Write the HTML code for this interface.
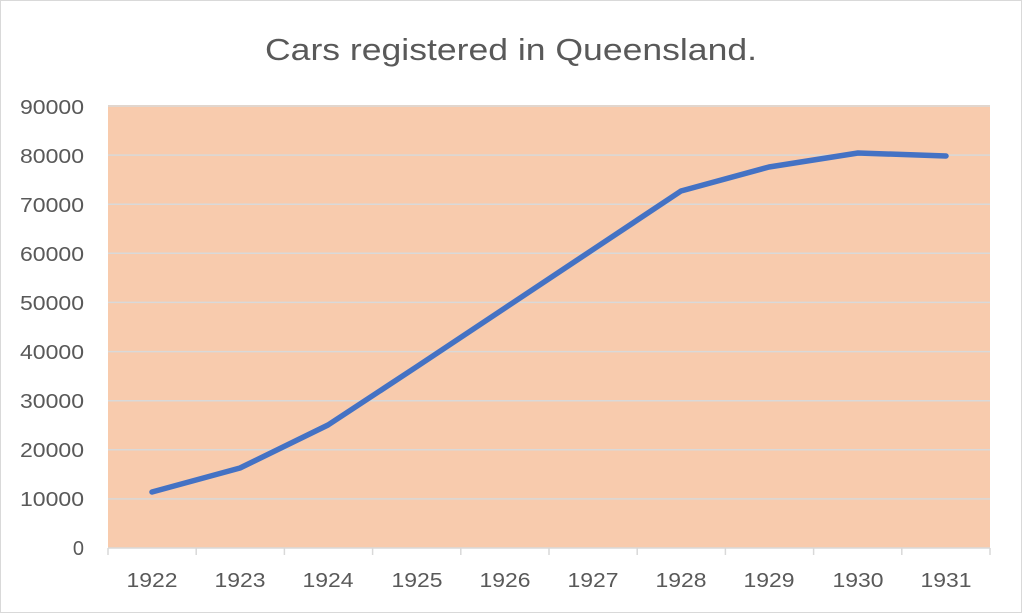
<!DOCTYPE html>
<html><head><style>
body{margin:0;background:#fff;}
svg{display:block;font-family:"Liberation Sans",Calibri,sans-serif;}
</style></head><body>
<svg width="1023" height="614" viewBox="0 0 1023 614">
<rect x="0.5" y="0.5" width="1021" height="612" fill="#fff" stroke="#d9d9d9"/>
<text x="265" y="60" font-size="31" fill="#595959" textLength="492" lengthAdjust="spacingAndGlyphs">Cars registered in Queensland.</text>
<rect x="108" y="105" width="882" height="443" fill="#f8cbad"/>
<g stroke="#d9d9d9" stroke-width="1.5">
<line x1="108" x2="990" y1="106" y2="106"/>
<line x1="108" x2="990" y1="155.1" y2="155.1"/>
<line x1="108" x2="990" y1="204.2" y2="204.2"/>
<line x1="108" x2="990" y1="253.3" y2="253.3"/>
<line x1="108" x2="990" y1="302.4" y2="302.4"/>
<line x1="108" x2="990" y1="351.6" y2="351.6"/>
<line x1="108" x2="990" y1="400.7" y2="400.7"/>
<line x1="108" x2="990" y1="449.8" y2="449.8"/>
<line x1="108" x2="990" y1="498.9" y2="498.9"/>
<line x1="108" x2="990" y1="548" y2="548"/>
<line x1="108" x2="108" y1="548" y2="555"/>
<line x1="196.2" x2="196.2" y1="548" y2="555"/>
<line x1="284.4" x2="284.4" y1="548" y2="555"/>
<line x1="372.6" x2="372.6" y1="548" y2="555"/>
<line x1="460.8" x2="460.8" y1="548" y2="555"/>
<line x1="549" x2="549" y1="548" y2="555"/>
<line x1="637.2" x2="637.2" y1="548" y2="555"/>
<line x1="725.4" x2="725.4" y1="548" y2="555"/>
<line x1="813.6" x2="813.6" y1="548" y2="555"/>
<line x1="901.8" x2="901.8" y1="548" y2="555"/>
<line x1="990" x2="990" y1="548" y2="555"/>
</g>
<g font-size="20" fill="#595959" text-anchor="end">
<text x="84" y="114" textLength="64" lengthAdjust="spacingAndGlyphs">90000</text>
<text x="84" y="163" textLength="64" lengthAdjust="spacingAndGlyphs">80000</text>
<text x="84" y="212" textLength="64" lengthAdjust="spacingAndGlyphs">70000</text>
<text x="84" y="261" textLength="64" lengthAdjust="spacingAndGlyphs">60000</text>
<text x="84" y="310" textLength="64" lengthAdjust="spacingAndGlyphs">50000</text>
<text x="84" y="359" textLength="64" lengthAdjust="spacingAndGlyphs">40000</text>
<text x="84" y="408" textLength="64" lengthAdjust="spacingAndGlyphs">30000</text>
<text x="84" y="457" textLength="64" lengthAdjust="spacingAndGlyphs">20000</text>
<text x="84" y="506" textLength="64" lengthAdjust="spacingAndGlyphs">10000</text>
<text x="84" y="555">0</text>
</g>
<g font-size="20" fill="#595959" text-anchor="middle">
<text x="152" y="587" textLength="51" lengthAdjust="spacingAndGlyphs">1922</text>
<text x="240" y="587" textLength="51" lengthAdjust="spacingAndGlyphs">1923</text>
<text x="328" y="587" textLength="51" lengthAdjust="spacingAndGlyphs">1924</text>
<text x="417" y="587" textLength="51" lengthAdjust="spacingAndGlyphs">1925</text>
<text x="505" y="587" textLength="51" lengthAdjust="spacingAndGlyphs">1926</text>
<text x="593" y="587" textLength="51" lengthAdjust="spacingAndGlyphs">1927</text>
<text x="681" y="587" textLength="51" lengthAdjust="spacingAndGlyphs">1928</text>
<text x="769" y="587" textLength="51" lengthAdjust="spacingAndGlyphs">1929</text>
<text x="858" y="587" textLength="51" lengthAdjust="spacingAndGlyphs">1930</text>
<text x="946" y="587" textLength="51" lengthAdjust="spacingAndGlyphs">1931</text>
</g>
<polyline fill="none" stroke="#4472c4" stroke-width="5.5" stroke-linejoin="round" stroke-linecap="round"
points="152,492 240,468 328,425 417,366.5 505,308 593,249.5 681,191 769,167 858,153 946,156"/>
</svg>
</body></html>
